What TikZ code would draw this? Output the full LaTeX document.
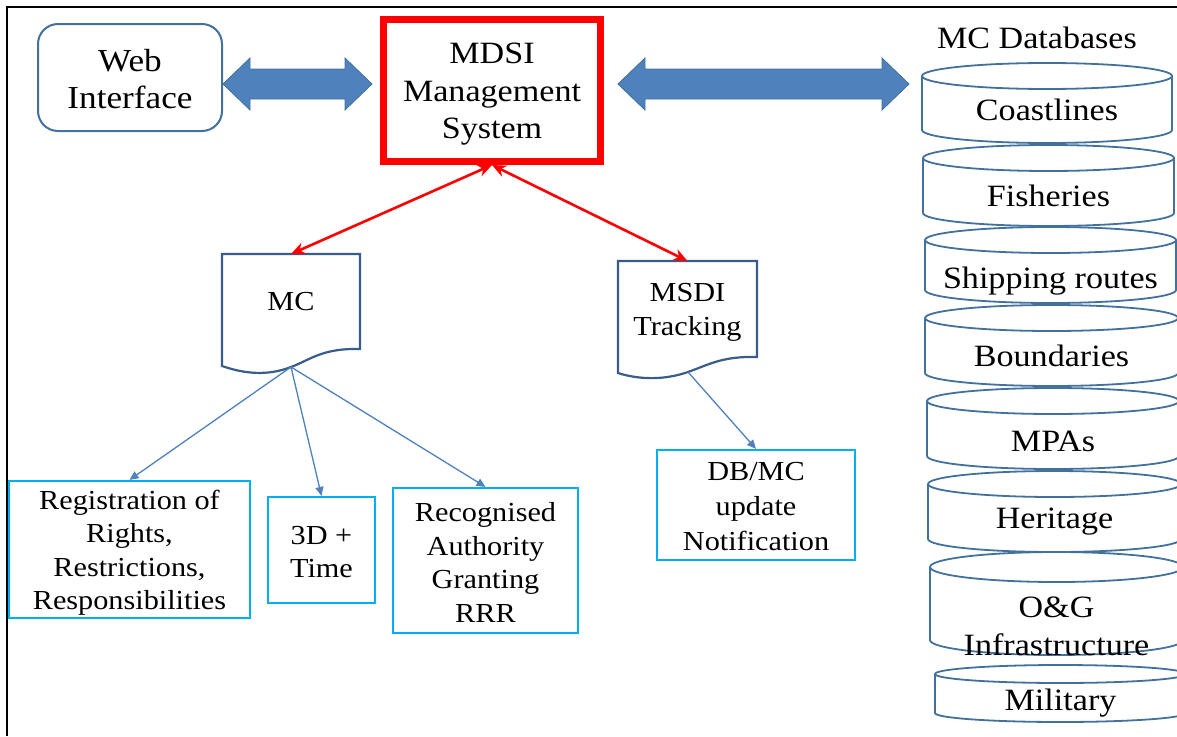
\documentclass[tikz,border=0pt]{standalone}
\usepackage{fontspec}
\setmainfont{Liberation Serif}[FakeStretch=1.1]
\usetikzlibrary{arrows.meta,calc}
\definecolor{boxblue}{HTML}{41719C}
\definecolor{fillblue}{HTML}{4F81BD}
\definecolor{docblue}{HTML}{385D8A}
\definecolor{cyanb}{HTML}{00B0F0}
\definecolor{mdsired}{HTML}{FF0000}
\newcommand{\lowered}[3]{\raisebox{-#1}[\height][\depth]{\parbox{#2}{\centering #3}}}
\newcommand{\dbcyl}[8]{%
  \pgfmathsetmacro\cylcx{(#2+#3)/2}%
  \pgfmathsetmacro\cylrx{(#3-#2)/2}%
  \draw[cylline] (#2,#4+#6) -- (#2,#5-#6) arc[start angle=180,end angle=360,x radius=\cylrx pt,y radius=#6 pt] -- (#3,#4+#6);
  \draw[cylline] (\cylcx,#4+#6) ellipse[x radius=\cylrx pt,y radius=#6 pt];
  \node[cyltext,minimum width={(#3-#2)*1pt}] (#1) at (\cylcx,#8) {#7};%
}
\newcommand{\wideArrow}[2]{%
  \filldraw[bigarrow] let \p1=#1, \p2=#2 in
    (\x1,\y1) -- (\x1+27pt,\y1+26pt) -- (\x1+27pt,\y1+15pt) -- (\x2-27pt,\y2+15pt)
    -- (\x2-27pt,\y2+26pt) -- (\x2,\y2) -- (\x2-27pt,\y2-26pt) -- (\x2-27pt,\y2-15pt)
    -- (\x1+27pt,\y1-15pt) -- (\x1+27pt,\y1-26pt) -- cycle;%
}
\begin{document}
\begin{tikzpicture}[x=1pt,y=-1pt,
  bigtext/.style={font=\fontsize{31}{37.5}\selectfont,align=center},
  smalltext/.style={font=\fontsize{27.5}{33.5}\selectfont,align=center},
  webbox/.style={draw=boxblue,line width=2pt,rounded corners=20pt,inner sep=0pt,outer sep=0pt,bigtext,font=\fontsize{32}{37}\selectfont},
  redbox/.style={draw=mdsired,line width=7pt,inner sep=0pt,bigtext},
  docnode/.style={inner sep=0pt,outer sep=0pt,smalltext},
  docline/.style={draw=docblue,line width=2.2pt},
  cylline/.style={draw=boxblue,line width=1.8pt},
  cyltext/.style={inner sep=0pt,outer sep=0pt,font=\fontsize{31}{38}\selectfont,align=center},
  cyanbox/.style={draw=cyanb,line width=2.2pt,inner sep=0pt,smalltext},
  bigarrow/.style={fill=fillblue,draw=boxblue,line width=0.8pt},
  redlink/.style={draw=mdsired,line width=2.6pt,{Stealth[length=14pt,width=12pt]}-{Stealth[length=14pt,width=12pt]}},
  link/.style={draw=fillblue,line width=1.3pt,-{Triangle[length=9pt,width=8pt]}},
  frameline/.style={draw=black,line width=2.5pt}
]
\useasboundingbox (0,0) rectangle (1177,736);
\fill[white] (0,0) rectangle (1177,736);
\draw[frameline] (7,736) -- (7,7) -- (1177,7);

% top row
\node[webbox,minimum width=184pt,minimum height=107pt] (web) at (130,77.5) {\lowered{2pt}{170pt}{Web\\Interface}};
\node[redbox,minimum width=217pt,minimum height=142pt] (mdsi) at (492,90.5) {\lowered{4pt}{205pt}{MDSI\\Management\\System}};
\node[bigtext,inner sep=0pt] (dblabel) at (1037,38) {MC Databases};

% databases
\dbcyl{coast}{922}{1172}{63}{143}{13}{Coastlines}{110}
\dbcyl{fish}{923}{1174}{145}{226}{13}{Fisheries}{196}
\dbcyl{ship}{925}{1176}{227}{303}{13}{Shipping routes}{281}
\dbcyl{bound}{925}{1178}{305}{386}{13}{Boundaries}{356}
\dbcyl{mpa}{927}{1179}{388}{469}{13}{MPAs}{441}
\dbcyl{herit}{928}{1181}{471}{552}{13}{Heritage}{522}
\dbcyl{oag}{930}{1183}{552}{655}{15}{O\&G\\Infrastructure}{626}
\dbcyl{mil}{935}{1186}{665}{722}{9}{Military}{703}

% big double arrows
\coordinate (arrowrow) at (0,84);
\wideArrow{($(web.east |- arrowrow)+(1,0)$)}{($(mdsi.west |- arrowrow)+(-8,0)$)}
\wideArrow{($(mdsi.east |- arrowrow)+(14,0)$)}{($(coast.west |- arrowrow)+(-13,0)$)}

% documents
\node[docnode,minimum width=138pt,minimum height=96pt] (mc) at (291,302) {MC};
\draw[docline] (mc.north west) -- (mc.north east) -- (360,349)
  .. controls (322,348) and (310,360) .. (291,367)
  .. controls (268,376) and (245,374) .. (222,366) -- cycle;
\coordinate (mcb) at (291,367);

\node[docnode,minimum width=139pt,minimum height=97pt] (msdi) at (687.5,309.5) {\lowered{3pt}{130pt}{MSDI\\Tracking}};
\draw[docline] (msdi.north west) -- (msdi.north east) -- (757,357)
  .. controls (722,356) and (708,365) .. (688,372)
  .. controls (665,380) and (640,380) .. (618,373) -- cycle;
\coordinate (msdib) at (688,372);

% lower boxes
\node[cyanbox,minimum width=241pt,minimum height=137pt] (reg) at (129.5,549.5) {\lowered{3pt}{235pt}{Registration of\\Rights,\\Restrictions,\\Responsibilities}};
\node[cyanbox,minimum width=107pt,minimum height=106pt] (td) at (321.5,550) {\lowered{2pt}{100pt}{3D +\\Time}};
\node[cyanbox,minimum width=185pt,minimum height=145pt] (rec) at (485.5,560.5) {\lowered{2pt}{180pt}{Recognised\\Authority\\Granting\\RRR}};
\node[cyanbox,minimum width=198pt,minimum height=110pt,font=\fontsize{27.5}{35}\selectfont] (dbmc) at (756,505) {\lowered{2pt}{190pt}{DB/MC\\update\\Notification}};

% connectors
\draw[redlink] (mdsi.south) -- (mc.north);
\draw[redlink] (mdsi.south) -- (msdi.north);
\draw[link] (mcb) -- (reg.north);
\draw[link] (mcb) -- (td.north);
\draw[link] (mcb) -- (rec.north);
\draw[link] (msdib) -- (dbmc.north);
\end{tikzpicture}
\end{document}
